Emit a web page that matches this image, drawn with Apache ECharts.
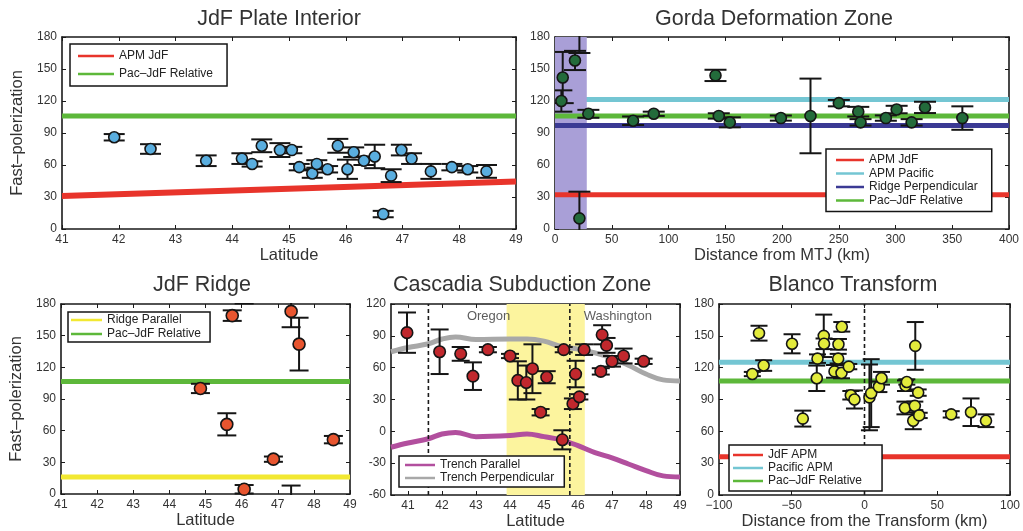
<!doctype html>
<html lang="en">
<head>
<meta charset="utf-8">
<title>Fast-polarization directions</title>
<style>
  html, body { margin: 0; padding: 0; background: #fff; }
  #main { width: 1023px; height: 531px; }
</style>
</head>
<body>
<div id="main"></div>
<script src="https://cdn.jsdelivr.net/npm/echarts@6/dist/echarts.min.js"></script>
<script>
var FONT = '"Liberation Sans", Arial, sans-serif';

// tick labels
var latTicks = [41, 42, 43, 44, 45, 46, 47, 48, 49];
var phiTicks = [0, 30, 60, 90, 120, 150, 180];
var cszPhiTicks = [-60, -30, 0, 30, 60, 90, 120];
var mtjTicks = [0, 50, 100, 150, 200, 250, 300, 350, 400];
var btTicks = [-100, -50, 0, 50, 100];

// JdF Plate Interior
var jdfLat = [41.92, 42.56, 43.54, 44.17, 44.35, 44.52, 44.84, 45.05, 45.18, 45.41, 45.49, 45.68, 45.86, 46.03, 46.14, 46.32, 46.51, 46.66, 46.80, 46.98, 47.16, 47.50, 47.87, 48.15, 48.48];
var jdfPhi = [86, 75, 64, 66, 61, 78, 74, 74, 58, 52, 61, 56, 78, 56, 72, 64, 68, 14, 50, 74, 66, 54, 58, 56, 54];
var jdfErr = [3, 4.5, 5, 5, 2.5, 6, 6.5, 3, 3, 4, 3.5, 3, 6.5, 9, 4.5, 4, 11, 3, 6, 5, 5, 7, 3, 3, 6];
var jdfApmLat = [41, 49];
var jdfApmPhi = [31, 44.5];
var jdfPacPhi = 106;

// Gorda Deformation Zone
var gdzDist = [5.6, 6.8, 17.6, 21.5, 29.4, 68.8, 87, 141.4, 144.3, 154, 199, 225.1, 250.1, 267.2, 269.2, 291.5, 301, 314.2, 326, 358.9];
var gdzPhi = [120, 142, 158, 10, 108, 101.5, 108, 144, 106, 100, 104, 106, 118, 110, 100, 104, 112, 100, 114, 104];
var gdzErr = [10, 24, 9, 25, 3.7, 4, 2, 5.3, 2.5, 4.7, 2.4, 35, 3, 4.5, 3, 2.5, 3.5, 3, 5.3, 11];
var gdzBand = [0, 28];
var gdzRefNames = ['APM JdF', 'APM Pacific', 'Ridge Perpendicular', 'Pac–JdF Relative'];
var gdzRefPhi = [32, 121.5, 97, 106];

// JdF Ridge
var ridgeLat = [44.86, 45.59, 45.74, 46.07, 46.88, 47.37, 47.59, 48.54];
var ridgePhi = [100, 66, 169, 4.5, 33, 173, 142, 51.5];
var ridgeErr = [4.4, 10.5, 5, 4, 2.5, 15, 25, 3.5];
var ridgeRefNames = ['Ridge Parallel', 'Pac–JdF Relative'];
var ridgeRefPhi = [16, 106.5];

// Cascadia Subduction Zone
var cszLat = [40.97, 41.93, 42.55, 42.91, 43.35, 44.0, 44.23, 44.48, 44.66, 44.9, 45.08, 45.58, 45.54, 45.85, 45.93, 46.04, 46.18, 46.67, 46.71, 46.84, 47.0, 47.34, 47.93];
var cszPhi = [93, 75, 73, 52, 77, 71, 48, 46, 59, 18, 51, 77, -8, 26, 54, 32.5, 77, 56.5, 91, 81, 66, 71, 66];
var cszErr = [19, 21, 6.5, 13, 2.5, 2, 18, 16, 23, 3, 5.7, 2.5, 9, 5, 12.5, 2.5, 5, 3, 9, 7, 5, 7, 2.5];
var trenchLat = [40.5, 41, 41.6, 42, 42.4, 43, 44, 44.5, 45, 45.5, 46, 46.5, 47, 47.5, 48, 48.5, 49];
var trenchPerp = [75, 79, 82.5, 87, 89, 86.5, 87, 87, 85, 80, 77.5, 74, 69, 62, 54, 48.5, 47.5];
var trenchPar = [-15, -11, -7, -2.5, -1, -5, -4, -2.5, -5, -8, -13.5, -20, -25, -31, -37, -42, -43];
var cszBand = [43.9, 46.2];
var cszBorders = [41.6, 45.76];
var stateNames = ['Oregon', 'Washington'];
var stateLat = [43.37, 47.17];
var statePhi = [108.7, 108.7];

// Blanco Transform
var btDist = [-77.1, -72.5, -69.3, -49.8, -42.4, -32.8, -32.3, -28, -27.8, -20.6, -17.9, -18.1, -15.6, -15.8, -10.8, -9.4, -6.9, 3.4, 4.6, 9.9, 11.7, 28.2, 29.1, 27.8, 34.6, 33.5, 34.9, 36.9, 37.6, 59.6, 73.2, 83.5];
var btPhi = [114, 152.5, 122, 142.5, 72, 110, 128.5, 150, 142.5, 116.5, 142, 128.5, 158.5, 115, 121, 94, 90, 92, 96, 102, 110, 103, 106.5, 82, 84, 70, 140.5, 96.5, 75, 76, 78, 70];
var btErr = [2, 7, 5, 9, 7.5, 12, 4, 20, 5, 6, 5, 4.5, 4.5, 5, 2.5, 4, 8.5, 31, 32, 5, 6, 5, 2.5, 6, 4, 8, 22.5, 3, 2.5, 3, 13, 6];
var btRefNames = ['JdF APM', 'Pacific APM', 'Pac–JdF Relative'];
var btRefPhi = [36, 125, 107.5];

var COLORS = {
    'APM JdF': '#e8342b', 'JdF APM': '#e8342b',
    'Pac–JdF Relative': '#5db83a',
    'APM Pacific': '#74c6d3', 'Pacific APM': '#74c6d3',
    'Ridge Perpendicular': '#3b3a94',
    'Ridge Parallel': '#f2e832',
    'Trench Parallel': '#b24f9e',
    'Trench Perpendicular': '#a8a8a8'
};

var chart = echarts.init(document.getElementById('main'));

var grids = [
    {left: 62, top: 37, width: 454, height: 192},
    {left: 555, top: 37, width: 454, height: 192},
    {left: 61, top: 304, width: 289, height: 190},
    {left: 391, top: 304, width: 289, height: 191},
    {left: 719, top: 304, width: 291, height: 191}
];
var xAxes = [], yAxes = [], series = [];

function axisLine() {
    return {show: true, onZero: false, lineStyle: {color: '#1a1a1a', width: 1.6}};
}
function axisTick(vals) {
    return {show: true, inside: true, length: 4, customValues: vals, lineStyle: {color: '#1a1a1a', width: 1}};
}
function labelStyle(vals, fmt) {
    var l = {customValues: vals, margin: 5, fontFamily: FONT, fontSize: 12, color: '#333'};
    if (fmt) l.formatter = fmt;
    return l;
}
var nameStyle = {fontFamily: FONT, fontSize: 16.5, color: '#333'};

function makeAxes(g, xmin, xmax, xTicks, ymin, ymax, yTicks, xName, yName, xFmt) {
    xAxes.push({
        type: 'value', gridIndex: g, min: xmin, max: xmax, position: 'bottom',
        axisLine: axisLine(), axisTick: axisTick(xTicks), splitLine: {show: false},
        axisLabel: labelStyle(xTicks, xFmt),
        name: xName, nameLocation: 'middle', nameGap: 17, nameTextStyle: nameStyle
    });
    xAxes.push({
        type: 'value', gridIndex: g, min: xmin, max: xmax, position: 'top',
        axisLine: axisLine(), axisTick: axisTick(xTicks), splitLine: {show: false},
        axisLabel: {show: false}
    });
    var y = {
        type: 'value', gridIndex: g, min: ymin, max: ymax, position: 'left',
        axisLine: axisLine(), axisTick: axisTick(yTicks), splitLine: {show: false},
        axisLabel: labelStyle(yTicks)
    };
    if (yName) {
        y.name = yName; y.nameLocation = 'middle'; y.nameGap = 36; y.nameTextStyle = nameStyle;
    }
    yAxes.push(y);
    yAxes.push({
        type: 'value', gridIndex: g, min: ymin, max: ymax, position: 'right',
        axisLine: axisLine(), axisTick: axisTick(yTicks), splitLine: {show: false},
        axisLabel: {show: false}
    });
}

function pairs(xs, ys) {
    var out = [];
    for (var i = 0; i < xs.length; i++) out.push([xs[i], ys[i]]);
    return out;
}

function refLine(g, name, xs, ys, width, z, smooth) {
    series.push({
        type: 'line', name: name, xAxisIndex: 2 * g, yAxisIndex: 2 * g,
        data: pairs(xs, ys), showSymbol: false, symbol: 'none', smooth: smooth || false,
        color: COLORS[name], lineStyle: {color: COLORS[name], width: width}, z: z || 3,
        silent: true, animation: false
    });
}

function vDashed(g, x, ymin, ymax) {
    series.push({
        type: 'line', xAxisIndex: 2 * g, yAxisIndex: 2 * g,
        data: [[x, ymin], [x, ymax]], showSymbol: false, symbol: 'none',
        lineStyle: {color: '#1a1a1a', width: 1.6, type: [4, 3]}, z: 3, silent: true, animation: false
    });
}

function band(g, xr, ymin, ymax, color, z) {
    series.push({
        type: 'custom', xAxisIndex: 2 * g, yAxisIndex: 2 * g, z: z, silent: true,
        data: [[xr[0], xr[1], ymin, ymax]],
        encode: {x: [0, 1], y: [2, 3]},
        renderItem: function (params, api) {
            var a = api.coord([api.value(0), api.value(3)]);
            var b = api.coord([api.value(1), api.value(2)]);
            return {type: 'rect', shape: {x: a[0], y: a[1], width: b[0] - a[0], height: b[1] - a[1]},
                style: {fill: color}};
        },
        animation: false
    });
}

function errorBars(g, xs, ys, es, cap, wrap) {
    var data = [];
    for (var i = 0; i < xs.length; i++) {
        data.push([xs[i], ys[i] - es[i], ys[i] + es[i]]);
        if (wrap) {
            data.push([xs[i], ys[i] - es[i] + 180, ys[i] + es[i] + 180]);
            data.push([xs[i], ys[i] - es[i] - 180, ys[i] + es[i] - 180]);
        }
    }
    series.push({
        type: 'custom', xAxisIndex: 2 * g, yAxisIndex: 2 * g, z: 4, silent: true,
        data: data, encode: {x: 0, y: [1, 2]},
        renderItem: function (params, api) {
            var lo = api.coord([api.value(0), api.value(1)]);
            var hi = api.coord([api.value(0), api.value(2)]);
            var cs = params.coordSys;
            var st = {stroke: '#151515', lineWidth: 2};
            return {
                type: 'group',
                clipPath: {type: 'rect', shape: {x: cs.x, y: cs.y - 1, width: cs.width, height: cs.height + 2}},
                children: [
                    {type: 'line', shape: {x1: lo[0], y1: lo[1], x2: hi[0], y2: hi[1]}, style: st},
                    {type: 'line', shape: {x1: lo[0] - cap, y1: lo[1], x2: lo[0] + cap, y2: lo[1]}, style: st},
                    {type: 'line', shape: {x1: hi[0] - cap, y1: hi[1], x2: hi[0] + cap, y2: hi[1]}, style: st}
                ]
            };
        },
        animation: false
    });
}

function dots(g, xs, ys, color, size) {
    series.push({
        type: 'scatter', xAxisIndex: 2 * g, yAxisIndex: 2 * g, z: 5, silent: true,
        data: pairs(xs, ys), symbolSize: size,
        itemStyle: {color: color, borderColor: '#151515', borderWidth: 1.6, opacity: 1},
        animation: false
    });
}

var minus = function (v) { return String(v).replace('-', '\u2212'); };

// panel 0: JdF Plate Interior
makeAxes(0, 41, 49, latTicks, 0, 180, phiTicks, 'Latitude', 'Fast\u2013polerization');
refLine(0, 'APM JdF', jdfApmLat, jdfApmPhi, 6);
refLine(0, 'Pac–JdF Relative', [41, 49], [jdfPacPhi, jdfPacPhi], 5);
errorBars(0, jdfLat, jdfPhi, jdfErr, 10.5, true);
dots(0, jdfLat, jdfPhi, '#5aaedf', 11);

// panel 1: Gorda Deformation Zone
makeAxes(1, 0, 400, mtjTicks, 0, 180, phiTicks, 'Distance from MTJ (km)');
gdzRefNames.forEach(function (n, i) {
    refLine(1, n, [0, 400], [gdzRefPhi[i], gdzRefPhi[i]], 5, n === 'APM Pacific' ? 1 : 3);
});
band(1, gdzBand, 0, 180, '#a99fd7', 2);
errorBars(1, gdzDist, gdzPhi, gdzErr, 11, true);
dots(1, gdzDist, gdzPhi, '#236b3b', 11);

// panel 2: JdF Ridge
makeAxes(2, 41, 49, latTicks, 0, 180, phiTicks, 'Latitude', 'Fast\u2013polerization');
ridgeRefNames.forEach(function (n, i) {
    refLine(2, n, [41, 49], [ridgeRefPhi[i], ridgeRefPhi[i]], 5);
});
errorBars(2, ridgeLat, ridgePhi, ridgeErr, 9.5, true);
dots(2, ridgeLat, ridgePhi, '#e8552f', 12);

// panel 3: Cascadia Subduction Zone
makeAxes(3, 40.5, 49, latTicks, -60, 120, cszPhiTicks, 'Latitude');
band(3, cszBand, -60, 120, '#fcf49e', 1);
refLine(3, 'Trench Parallel', trenchLat, trenchPar, 5, 3, 0.4);
refLine(3, 'Trench Perpendicular', trenchLat, trenchPerp, 5, 3, 0.4);
cszBorders.forEach(function (x) { vDashed(3, x, -60, 120); });
errorBars(3, cszLat, cszPhi, cszErr, 9, false);
dots(3, cszLat, cszPhi, '#c1282d', 11.5);
series.push({
    type: 'scatter', xAxisIndex: 6, yAxisIndex: 6, symbolSize: 0, silent: true, z: 6,
    data: stateNames.map(function (n, i) { return {name: n, value: [stateLat[i], statePhi[i]]}; }),
    label: {show: true, position: 'inside', formatter: '{b}', fontFamily: FONT, fontSize: 13, color: '#333'},
    animation: false
});

// panel 4: Blanco Transform
makeAxes(4, -100, 100, btTicks, 0, 180, phiTicks, 'Distance from the Transform (km)', null, minus);
btRefNames.forEach(function (n, i) {
    refLine(4, n, [-100, 100], [btRefPhi[i], btRefPhi[i]], 5);
});
vDashed(4, 0, 0, 180);
errorBars(4, btDist, btPhi, btErr, 8.5, false);
dots(4, btDist, btPhi, '#e3eb3c', 11);

function legendBox(names, left, top, pad, iconW, lineH, gap) {
    return {
        data: names, orient: 'vertical', left: left, top: top, padding: pad,
        icon: 'rect', itemWidth: iconW, itemHeight: 2.5, itemGap: gap, itemTextGap: 4,
        selectedMode: false, z: 10,
        backgroundColor: '#fff', borderColor: '#151515', borderWidth: 1.5,
        textStyle: {fontFamily: FONT, fontSize: 12, color: '#222', lineHeight: lineH}
    };
}

var titleStyle = {fontFamily: FONT, fontSize: 21.5, fontWeight: 'normal', color: '#333'};

chart.setOption({
    backgroundColor: '#fff',
    animation: false,
    title: [
        {text: 'JdF Plate Interior', left: 274, top: 3, textAlign: 'center', textStyle: titleStyle},
        {text: 'Gorda Deformation Zone', left: 769, top: 3, textAlign: 'center', textStyle: titleStyle},
        {text: 'JdF Ridge', left: 197, top: 269, textAlign: 'center', textStyle: titleStyle},
        {text: 'Cascadia Subduction Zone', left: 517, top: 269, textAlign: 'center', textStyle: titleStyle},
        {text: 'Blanco Transform', left: 848, top: 269, textAlign: 'center', textStyle: titleStyle}
    ],
    legend: [
        legendBox(['APM JdF', 'Pac–JdF Relative'], 70, 44, [5, 14, 5, 8], 36, 14, 4),
        legendBox(gdzRefNames, 826, 149, [5, 14, 5, 10], 28, 12, 1.5),
        legendBox(ridgeRefNames, 68, 312, [2, 9, 2, 3], 31, 12, 2),
        legendBox(['Trench Parallel', 'Trench Perpendicular'], 399, 456, [3, 10, 3, 6], 30, 12, 1),
        legendBox(btRefNames, 729, 445, [4, 20, 4, 4], 30, 11, 1)
    ],
    grid: grids,
    xAxis: xAxes,
    yAxis: yAxes,
    series: series
});
</script>
</body>
</html>
